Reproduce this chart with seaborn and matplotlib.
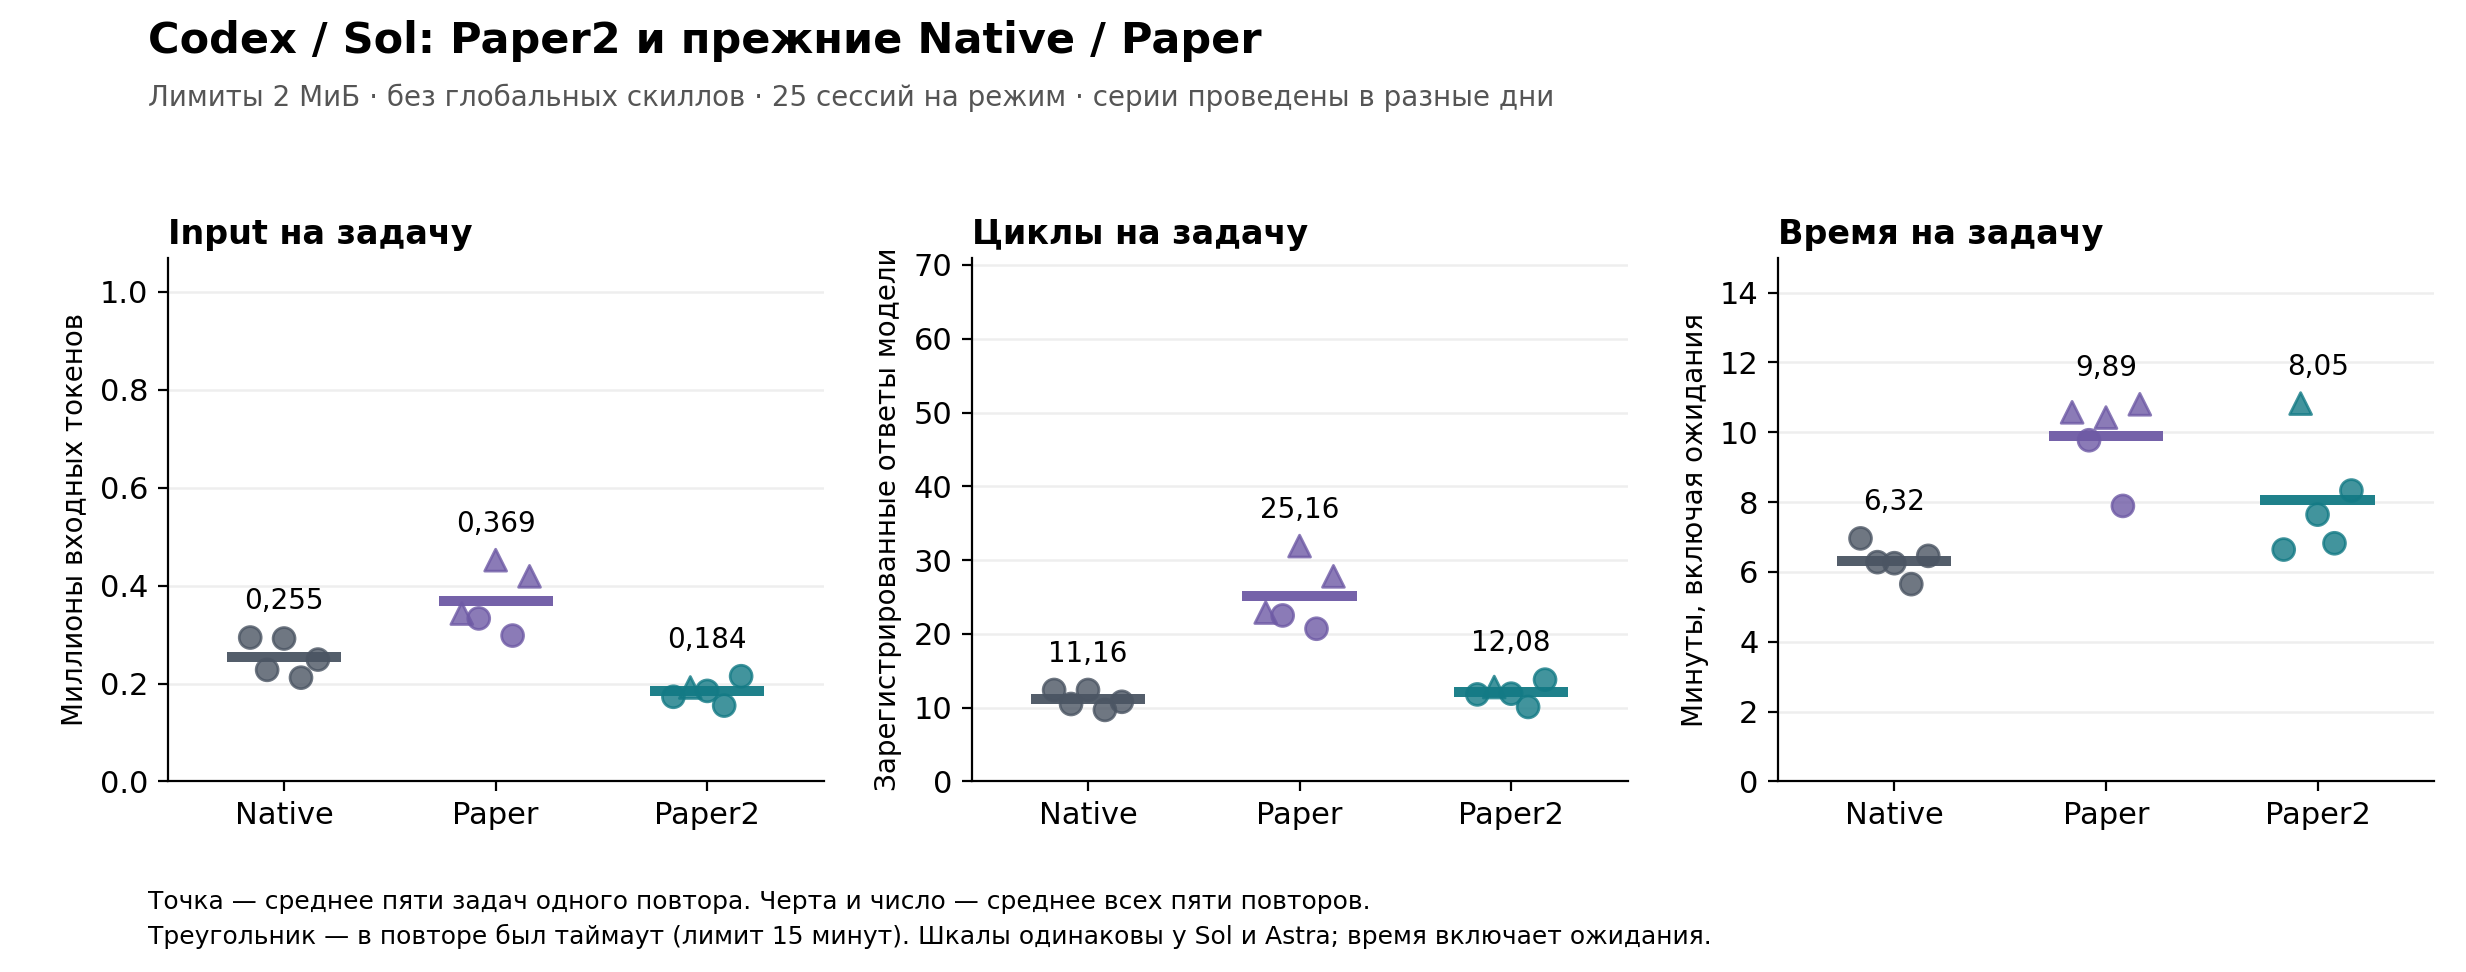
import matplotlib
matplotlib.use("Agg")
import matplotlib.pyplot as plt
import numpy as np
import pandas as pd
import seaborn as sns

MODES = ["Native", "Paper", "Paper2"]
MODE_COLORS = {"Native": "#4b5563", "Paper": "#6e5aa5", "Paper2": "#137a85"}

# per-repeat averages (5 repeats per mode)
INPUT_NATIVE = [0.294, 0.228, 0.292, 0.212, 0.249]
INPUT_PAPER = [0.343, 0.333, 0.452, 0.298, 0.419]
INPUT_PAPER2 = [0.173, 0.192, 0.185, 0.155, 0.215]

CYCLES_NATIVE = [12.4, 10.5, 12.4, 9.7, 10.8]
CYCLES_PAPER = [22.9, 22.5, 31.9, 20.7, 27.8]
CYCLES_PAPER2 = [11.8, 12.8, 11.9, 10.1, 13.8]

TIME_NATIVE = [6.96, 6.28, 6.25, 5.65, 6.46]
TIME_PAPER = [10.57, 9.77, 10.42, 7.89, 10.80]
TIME_PAPER2 = [6.64, 10.82, 7.64, 6.82, 8.33]

# repeat had a timeout (15 min limit) -> triangle
TIMEOUT_NATIVE = [False, False, False, False, False]
TIMEOUT_PAPER = [True, False, True, False, True]
TIMEOUT_PAPER2 = [False, True, False, False, False]

PANELS = [
    ("Input на задачу", "Миллионы входных токенов",
     [INPUT_NATIVE, INPUT_PAPER, INPUT_PAPER2], 1.07, np.arange(0, 1.01, 0.2), 3),
    ("Циклы на задачу", "Зарегистрированные ответы модели",
     [CYCLES_NATIVE, CYCLES_PAPER, CYCLES_PAPER2], 71, np.arange(0, 71, 10), 2),
    ("Время на задачу", "Минуты, включая ожидания",
     [TIME_NATIVE, TIME_PAPER, TIME_PAPER2], 15, np.arange(0, 15, 2), 2),
]
TIMEOUTS = [TIMEOUT_NATIVE, TIMEOUT_PAPER, TIMEOUT_PAPER2]

OFFSETS = np.array([-0.16, -0.08, 0.0, 0.08, 0.16])


def build_frame(series):
    rows = []
    for i, (mode, vals, tos) in enumerate(zip(MODES, series, TIMEOUTS)):
        for j, (v, t) in enumerate(zip(vals, tos)):
            rows.append({"mode": mode, "x": i + OFFSETS[j], "value": v,
                         "timeout": "yes" if t else "no"})
    return pd.DataFrame(rows)


def draw_panel(ax, title, ylabel, series, ytop, yticks, decimals):
    df = build_frame(series)
    for i, mode in enumerate(MODES):
        sub = df[df["mode"] == mode]
        mean = sub["value"].mean()
        ax.hlines(mean, i - 0.27, i + 0.27, color=MODE_COLORS[mode],
                  lw=3.6, alpha=0.95, zorder=2)
        sns.scatterplot(data=sub, x="x", y="value", style="timeout",
                        markers={"no": "o", "yes": "^"},
                        style_order=["no", "yes"],
                        color=MODE_COLORS[mode], edgecolor=MODE_COLORS[mode],
                        s=62, alpha=0.8, linewidth=1, legend=False,
                        ax=ax, zorder=3)
        label = f"{mean:.{decimals}f}".replace(".", ",")
        ax.annotate(label, (i, sub["value"].max()), xytext=(0, 8),
                    textcoords="offset points", ha="center", va="bottom",
                    fontsize=10)
    ax.set_xlim(-0.55, 2.55)
    ax.set_ylim(0, ytop)
    ax.set_yticks(yticks)
    if decimals == 3:
        ax.set_yticklabels([f"{t:.1f}" for t in yticks])
    ax.set_xticks(range(len(MODES)))
    ax.set_xticklabels(MODES)
    ax.set_xlabel("")
    ax.set_ylabel(ylabel, fontsize=10)
    ax.set_title(title, loc="left", fontsize=12, fontweight="bold", pad=5)
    ax.grid(axis="y", color="#eeeeee", lw=0.9)
    ax.set_axisbelow(True)
    ax.tick_params(axis="both", labelsize=11)
    sns.despine(ax=ax)


sns.set_style("ticks", {"axes.edgecolor": "black", "text.color": "black",
                        "xtick.color": "black", "ytick.color": "black",
                        "axes.labelcolor": "black"})
plt.rcParams["font.family"] = ["DejaVu Sans"]

fig = plt.figure(figsize=(12.33, 4.86), dpi=200)
lefts = [0.068, 0.394, 0.721]
for left, panel in zip(lefts, PANELS):
    ax = fig.add_axes([left, 0.196, 0.266, 0.539])
    draw_panel(ax, *panel)

fig.text(0.060, 0.958, "Codex / Sol: Paper2 и прежние Native / Paper",
         fontsize=15.5, fontweight="bold", va="center")
fig.text(0.060, 0.899,
         "Лимиты 2 МиБ · без глобальных скиллов · 25 сессий на режим · серии проведены в разные дни",
         fontsize=10, color="#555555", va="center")
fig.text(0.060, 0.072,
         "Точка — среднее пяти задач одного повтора. Черта и число — среднее всех пяти повторов.",
         fontsize=9, va="center")
fig.text(0.060, 0.037,
         "Треугольник — в повторе был таймаут (лимит 15 минут). Шкалы одинаковы у Sol и Astra; время включает ожидания.",
         fontsize=9, va="center")

fig.savefig("out.png", dpi=200)
